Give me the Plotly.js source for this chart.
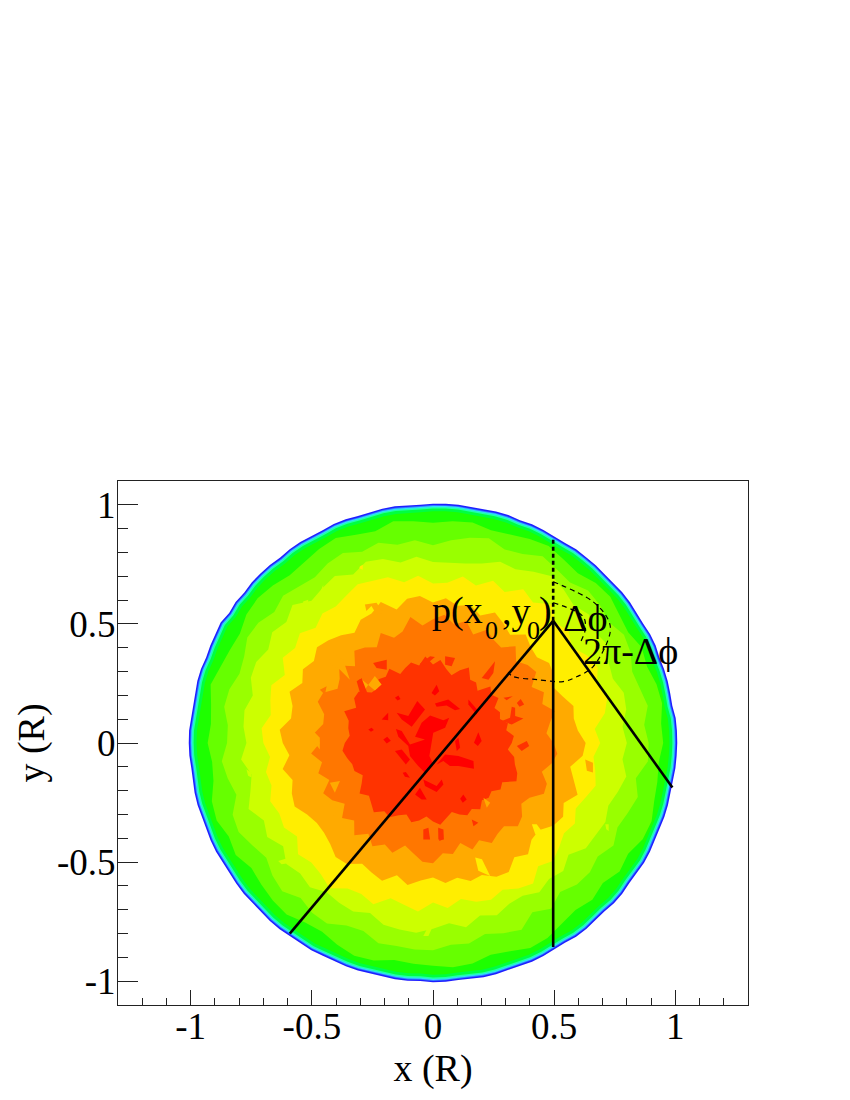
<!DOCTYPE html>
<html><head><meta charset="utf-8">
<script src="https://cdn.plot.ly/plotly-3.0.1.min.js"></script>
<style>html,body{margin:0;padding:0;background:#fff}</style>
</head><body><div id="chart" style="width:850px;height:1100px"></div>
<script>
// Boundary radius of the disk, read every 3 degrees counter-clockwise from +x
const edgeRadius=[1.008,1.008,1.007,1.000,1.001,1.003,1.003,1.001,1.006,1.006,1.002,1.002,1.005,1.005,1.001,1.000,1.004,1.004,1.005,1.001,1.001,1.004,1.005,1.002,1.006,1.006,1.003,1.002,1.006,1.006,1.005,1.002,1.003,1.006,1.006,1.002,1.002,1.006,1.007,1.003,
1.003,1.006,1.006,1.002,1.006,1.007,1.007,1.003,1.007,1.003,1.012,1.008,1.006,1.003,1.007,1.007,1.003,1.002,1.006,1.008,1.008,1.007,1.003,1.003,1.006,1.006,1.002,1.002,1.005,1.005,1.001,1.001,1.004,1.005,1.002,1.002,1.006,1.006,1.002,1.003,
1.005,1.002,1.002,1.004,1.004,1.001,1.001,1.004,1.004,1.001,1.005,1.004,1.001,1.001,1.005,1.005,1.002,1.001,1.005,1.004,1.000,1.000,1.005,1.005,1.001,1.000,1.005,1.005,1.001,1.003,1.006,1.005,1.002,1.001,1.004,1.004,1.001,1.003,1.006,1.007];
// Colour-band boundaries: radius every 5 degrees counter-clockwise from +x
const ring20ff00=[.95,.945,.96,.955,.94,.95,.93,.94,.955,.95,.93,.94,.955,.945,.93,.925,.94,.935,
.925,.935,.945,.92,.93,.95,.94,.925,.92,.935,.945,.94,.92,.925,.935,.95,.93,.92,
.93,.915,.92,.945,.95,.93,.94,.915,.925,.935,.94,.92,.915,.935,.95,.945,.925,.93,
.935,.945,.94,.92,.93,.95,.945,.925,.915,.93,.915,.94,.93,.955,.96,.945,.94,.935];
const ring66ff00=[.89,.875,.90,.885,.875,.90,.91,.885,.90,.905,.88,.89,.905,.875,.865,.89,.875,.855,
.83,.855,.845,.87,.855,.88,.87,.85,.86,.875,.855,.88,.885,.86,.85,.87,.875,.85,
.85,.875,.86,.84,.88,.885,.86,.84,.865,.88,.85,.87,.875,.845,.84,.87,.865,.87,
.87,.85,.855,.83,.85,.865,.82,.85,.816,.84,.845,.83,.86,.84,.856,.875,.85,.89];
const ring99ff00=[.80,.785,.81,.815,.79,.80,.83,.815,.84,.82,.84,.855,.83,.805,.81,.78,.765,.76,
.76,.785,.77,.80,.81,.78,.81,.795,.78,.82,.79,.81,.785,.805,.80,.77,.79,.785,
.77,.795,.76,.78,.81,.77,.79,.755,.79,.775,.79,.765,.775,.78,.76,.79,.795,.80,
.78,.76,.785,.75,.77,.745,.74,.765,.745,.76,.73,.77,.775,.785,.77,.79,.81,.785];
const ringCcff00=[.69,.67,.72,.745,.72,.75,.735,.70,.73,.715,.76,.72,.745,.70,.725,.685,.71,.675,
.67,.705,.685,.72,.725,.735,.715,.70,.71,.685,.717,.695,.716,.675,.71,.695,.68,.71,
.70,.675,.70,.69,.715,.70,.71,.685,.727,.71,.72,.744,.705,.70,.72,.675,.69,.71,
.67,.695,.665,.69,.70,.68,.705,.72,.675,.70,.68,.66,.676,.65,.67,.695,.68,.665];
const ringFfee00=[.63,.60,.59,.60,.57,.55,.575,.585,.56,.57,.595,.555,.58,.605,.57,.60,.585,.61,
.59,.62,.615,.58,.63,.60,.597,.565,.59,.61,.625,.60,.62,.595,.63,.60,.595,.635,
.62,.595,.63,.60,.62,.63,.60,.585,.587,.60,.625,.62,.585,.60,.615,.575,.605,.58,
.565,.59,.575,.60,.59,.62,.625,.585,.61,.575,.57,.605,.62,.595,.635,.60,.575,.62];
const ringFfaa00=[.497,.47,.49,.52,.48,.505,.47,.52,.51,.485,.53,.49,.50,.525,.485,.53,.505,.54,
.52,.495,.537,.485,.47,.51,.464,.49,.505,.455,.506,.47,.455,.50,.506,.465,.46,.49,
.467,.505,.465,.49,.455,.50,.48,.445,.49,.46,.505,.465,.50,.47,.49,.445,.47,.50,
.505,.465,.473,.435,.476,.45,.485,.465,.456,.495,.48,.445,.46,.505,.50,.465,.497,.515];
const ringFf7700=[.325,.335,.307,.32,.294,.305,.293,.33,.315,.335,.286,.31,.307,.35,.325,.295,.315,.35,
.33,.365,.33,.35,.335,.32,.36,.34,.35,.325,.33,.375,.376,.35,.39,.36,.355,.345,
.364,.375,.36,.345,.345,.32,.34,.37,.345,.36,.38,.35,.36,.335,.32,.345,.33,.31,
.33,.345,.32,.30,.32,.335,.32,.34,.314,.325,.315,.34,.33,.38,.37,.35,.34,.31];
// Edge shading: fraction of the disk radius and colour, outside to inside
const edgeFractions=[1,.994,.99,.986,.98,.968];
const edgeColors=['#1e1eff','#2f7dff','#33ddff','#22ffaa','#00ff40','#1eff00'];
const bandColors=['#66ff00','#99ff00','#ccff00','#ffee00','#ffaa00','#ff7700','#ff3300'];
const bandRings=[ring20ff00,ring66ff00,ring99ff00,ringCcff00,ringFfee00,ringFfaa00,ringFf7700];
// Small islands of colour
const islandsFf0000=[
[[-.074,-.047,-.012,.043,.067,.050,.001,-.006,-.015,.001,-.033,-.061,-.095,-.102,-.143,-.153,-.129,-.095,-.033],[.026,.085,.115,.096,.106,.064,.043,-.006,-.055,-.090,-.125,-.097,-.055,-.013,.026,.059,.050,-.006,.015]],
[[-.150,-.102,-.065,-.033,-.088,-.129],[.127,.113,.176,.141,.068,.099]],
[[.008,.063,.112,.091,.056,.015],[.166,.183,.143,.138,.157,.152]],
[[-.006,.015,.026,.008],[.210,.245,.217,.199]],
[[.169,.187,.201,.185],[.001,.045,.008,-.013]],
[[.091,.105,.112,.098],[.008,.022,-.020,-.034]],
[[.015,.050,.105,.167,.169,.105,.070,.043],[-.090,-.048,-.055,-.076,-.108,-.097,-.097,-.076]],
[[-.040,-.012,.015,.036,.043,.015,-.033],[-.153,-.167,-.181,-.153,-.174,-.206,-.181]],
[[-.074,-.054,-.026,-.047],[-.216,-.188,-.237,-.237]],
[[-.212,-.185,-.185],[.099,.127,.096]],
[[.112,.125,.139,.123],[-.234,-.216,-.237,-.251]],
[[-.205,-.189,-.174,-.191],[.015,.026,.009,-.002]],
[[-.157,-.143,-.134,-.146],[.190,.199,.185,.178]],
[[-.267,-.253,-.244,-.256],[.057,.064,.055,.047]],
[[-.157,-.129,-.095,-.112],[-.034,-.027,-.069,-.090]],
[[-.125,-.112,-.095,-.116],[-.125,-.122,-.146,-.142]],
[[.146,.187,.180,.146],[.183,.134,.120,.162]]];
const islandsFf3300=[
[[-.247,-.191,-.191,-.233],[.336,.350,.308,.315]],
[[.050,.091,.077,.050],[.364,.357,.322,.329]],
[[.201,.256,.249,.229],[.273,.343,.294,.266]],
[[-.054,-.012,.008,-.033],[.333,.364,.361,.325]],
[[.284,.318,.325,.339,.339,.373,.325],[.092,.106,.152,.148,.113,.103,.078]],
[[.346,.362,.376,.357],[.168,.185,.162,.152]],
[[.291,.329,.304],[.190,.196,.180]],
[[-.315,-.295,-.271,-.302],[.259,.273,.210,.213]],
[[.346,.387,.397,.366],[-.013,.008,-.013,-.034]],
[[-.040,-.019,-.012,-.040],[-.363,-.356,-.405,-.405]],
[[.022,.043,.045,.022],[-.356,-.363,-.405,-.405]],
[[.160,.187,.167],[-.321,-.335,-.349]],
[[.022,.043,.026],[-.355,-.404,-.411]]];
const islandsFf7700=[
[[-.467,-.439,-.446],[.224,.238,.203]]];
const islandsFfaa00=[
[[-.494,-.467,-.467,-.494],[.050,.022,-.027,.008]],
[[-.302,-.281,-.240,-.212,-.240],[.274,.225,.281,.246,.220]],
[[-.281,-.233,-.205,-.233,-.254,-.275],[.582,.589,.547,.540,.575,.554]],
[[.628,.660,.660,.635],[-.069,-.083,-.124,-.117]],
[[-.426,-.384,-.405],[-.167,-.16,-.209]],
[[-.426,-.391,-.412],[-.258,-.272,-.307]],
[[-.426,-.371,-.343,-.384,-.426],[.392,.350,.266,.308,.336]],
[[.208,.236,.222],[-.23,-.251,-.272]]];
const islandsFfee00=[
[[.408,.428,.463,.422],[-.341,-.341,-.390,-.383]],
[[.174,.202,.236,.187],[-.481,-.488,-.558,-.536]],
[[-.302,-.29,-.29,-.304],[.741,.748,.727,.734]]];
const islandsCcff00=[
[[-.536,-.515,-.515,-.536],[.594,.601,.573,.587]],
[[-.467,-.453,-.453,-.467],[.629,.664,.629,.615]],
[[.711,.725,.725,.715],[-.341,-.341,-.369,-.362]],
[[-.770,-.749,-.749,-.763],[-.11,-.125,-.145,-.138]],
[[-.639,-.605,-.598,-.625],[-.495,-.485,-.505,-.509]],
[[-.026,0,-.019,-.04],[-.783,-.768,-.81,-.81]]];
// Construction lines and arcs
const apex=[.496,.513];
const lineLeftEnd=[-.591,-.80];
const lineDownEnd=[.496,-.857];
const lineRightEnd=[.988,-.187];
const dottedTop=[.496,.866];
const arcOuterX=[.496,.661,.723,.731,.661,.595,.537,.430,.331,.310];
const arcOuterY=[.677,.593,.518,.464,.321,.279,.258,.266,.279,.296];
const arcInnerX=[.496,.620,.628,.608];
const arcInnerY=[.589,.530,.476,.422];
const tickVals=[-1,-.5,0,.5,1];
const tickText=['-1','-0.5','0','0.5','1'];

const serif='"Liberation Serif","Times New Roman",serif';
function polar(radii,scale){
  const n=radii.length,x=[],y=[];
  for(let i=0;i<n;i++){const a=2*Math.PI*i/n;x.push(radii[i]*scale*Math.cos(a));y.push(radii[i]*scale*Math.sin(a));}
  x.push(x[0]);y.push(y[0]);return {x,y};
}
function poly(p,color){return {type:'scatter',mode:'lines',x:p.x,y:p.y,fill:'toself',fillcolor:color,line:{width:0,color:color},hoverinfo:'skip',showlegend:false};}
function island(c,color){return poly({x:c[0].concat(c[0][0]),y:c[1].concat(c[1][0])},color);}
function seg(a,b,w,dash){return {type:'scatter',mode:'lines',x:[a[0],b[0]],y:[a[1],b[1]],line:{color:'#000',width:w,dash:dash||'solid'},hoverinfo:'skip',showlegend:false};}
const traces=[];
edgeFractions.forEach((f,i)=>traces.push(poly(polar(edgeRadius,f),edgeColors[i])));
bandRings.forEach((r,i)=>traces.push(poly(polar(r,1),bandColors[i])));
islandsCcff00.forEach(c=>traces.push(island(c,'#ccff00')));
islandsFf7700.forEach(c=>traces.push(island(c,'#ff7700')));
islandsFfaa00.forEach(c=>traces.push(island(c,'#ffaa00')));
islandsFfee00.forEach(c=>traces.push(island(c,'#ffee00')));
islandsFf3300.forEach(c=>traces.push(island(c,'#ff3300')));
islandsFf0000.forEach(c=>traces.push(island(c,'#ff0000')));
traces.push(seg(apex,lineLeftEnd,2.6));
traces.push(seg(apex,lineDownEnd,2.6));
traces.push(seg(apex,lineRightEnd,2.6));
traces.push(seg(apex,dottedTop,2.6,'4px,3px'));
traces.push({type:'scatter',mode:'lines',x:arcOuterX,y:arcOuterY,line:{color:'#000',width:1.2,dash:'5px,4px',shape:'spline'},hoverinfo:'skip',showlegend:false});
traces.push({type:'scatter',mode:'lines',x:arcInnerX,y:arcInnerY,line:{color:'#000',width:1.2,dash:'5px,4px',shape:'spline'},hoverinfo:'skip',showlegend:false});

function axis(range,len,minorLen,title,standoff,labelShift){
  return {range:range,autorange:false,showgrid:false,zeroline:false,showline:true,mirror:true,linecolor:'#222',linewidth:1,
    tickmode:'array',tickvals:tickVals,ticktext:tickText,ticks:'inside',ticklen:len,tickwidth:1,tickcolor:'#222',
    ticklabelstandoff:labelShift,
    tickfont:{family:serif,size:37,color:'#000'},
    minor:{dtick:.1,tick0:0,ticks:'inside',ticklen:minorLen,tickwidth:1,tickcolor:'#222',showgrid:false},
    title:{text:title,font:{family:serif,size:38,color:'#000'},standoff:standoff}};
}
const ann=(t,x,y,s)=>({x:x,y:y,text:t,showarrow:false,xanchor:'left',yanchor:'middle',font:{family:serif,size:s||38,color:'#000'}});
const layout={width:850,height:1100,paper_bgcolor:'#fff',plot_bgcolor:'#fff',showlegend:false,
  margin:{l:118,r:102,t:481,b:95,pad:0},
  xaxis:axis([-1.3,1.3],15,7,'x (R)',0,-11),
  yaxis:axis([-1.1,1.1],20,10,'y (R)',0,-6),
  annotations:[ann('p(x',-.012,.555),ann('0',.207,.474,26),ann(',y',.275,.555),ann('0',.38,.474,26),ann(')',.43,.555),ann('Δϕ',.53,.525),ann('2π-Δϕ',.61,.385)]};
Plotly.newPlot('chart',traces,layout,{displayModeBar:false,staticPlot:true});
</script></body></html>
